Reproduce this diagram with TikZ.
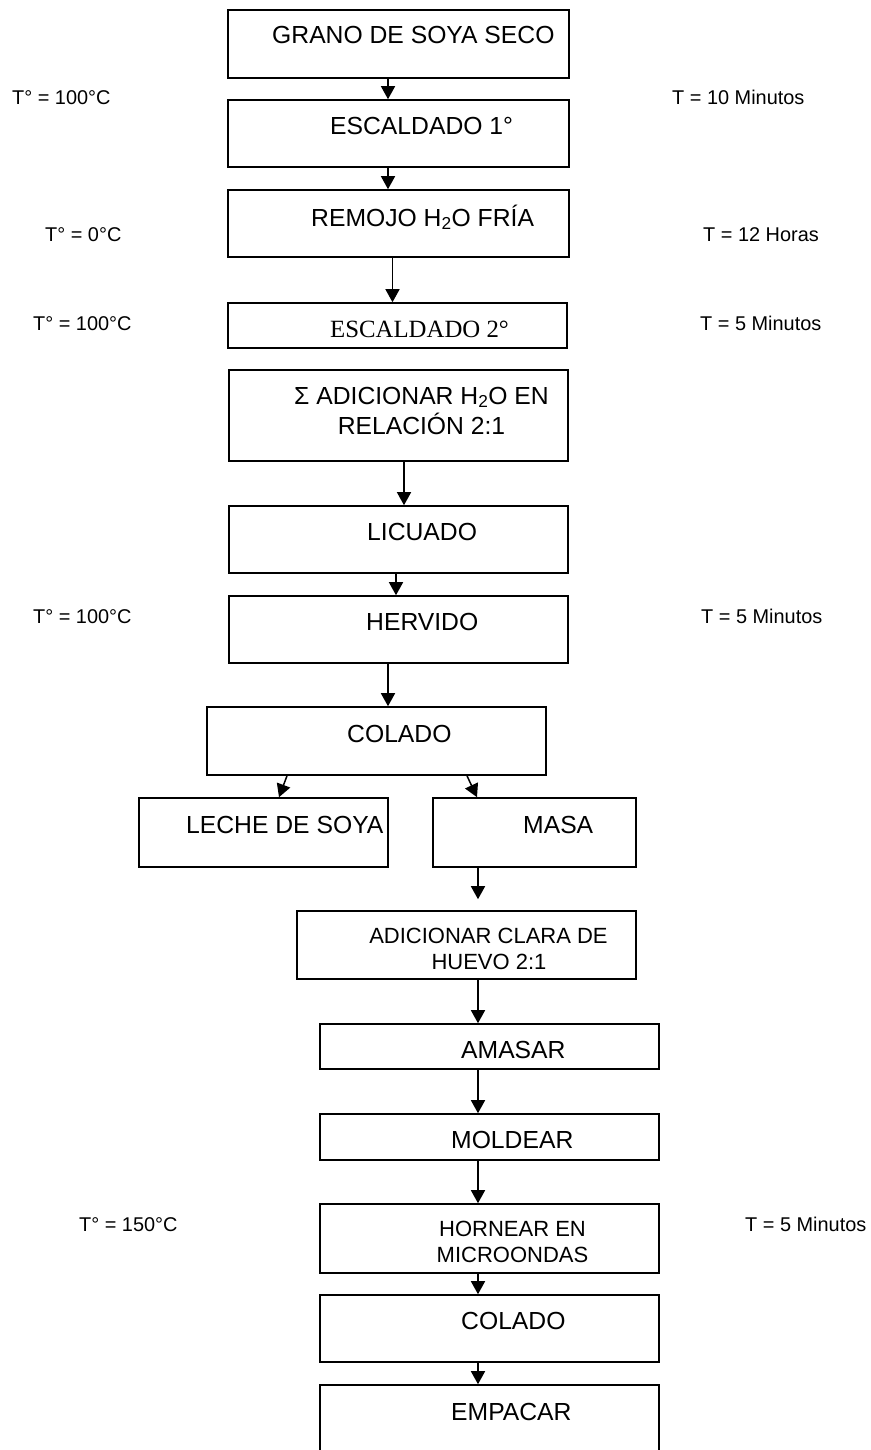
\documentclass[tikz,border=0pt]{standalone}
\usepackage{fontspec}
\setmainfont{Liberation Sans}
\newfontfamily\serifa{Liberation Serif}
\usetikzlibrary{arrows.meta}
\newcommand{\agua}{H\textsubscript{2}O}

\begin{document}
\begin{tikzpicture}[x=1pt,y=-1pt]
                        \tikzstyle{caja}=[draw,line width=1.6pt,inner sep=0pt,minimum width=339pt]
                        \tikzstyle{txt}=[inner sep=0pt,anchor=base west,font=\fontsize{24.7}{28}\selectfont]
                        \tikzstyle{txtc}=[inner sep=0pt,anchor=base,font=\fontsize{22}{26}\selectfont]
                        \tikzstyle{lado}=[inner sep=0pt,anchor=base west,font=\fontsize{19.9}{24}\selectfont]
                        \tikzstyle{flecha}=[line width=1.5pt,-{Triangle[width=14pt,length=13pt]}]
                        \useasboundingbox (0,0) rectangle (870,1450);
                        \clip (0,0) rectangle (870,1450);
                        \node[caja,minimum width=341pt,minimum height=68pt] (grano) at (398.5,44) {};
                        \node[caja,minimum width=341pt,minimum height=67pt] (escaldadouno) at (398.5,133.5) {};
                        \node[caja,minimum width=341pt,minimum height=67pt] (remojo) at (398.5,223.5) {};
                        \node[caja,minimum height=45pt] (escaldadodos) at (397.5,325.5) {};
                        \node[caja,minimum height=91pt] (adicionar) at (398.5,415.5) {};
                        \node[caja,minimum height=67pt] (licuado) at (398.5,539.5) {};
                        \node[caja,minimum height=67pt] (hervido) at (398.5,629.5) {};
                        \node[caja,minimum height=68pt] (colado) at (376.5,741) {};
                        \node[caja,minimum width=249pt,minimum height=69pt] (leche) at (263.5,832.5) {};
                        \node[caja,minimum width=203pt,minimum height=69pt] (masa) at (534.5,832.5) {};
                        \node[caja,minimum height=68pt] (clara) at (466.5,945) {};
                        \node[caja,minimum height=45pt] (amasar) at (489.5,1046.5) {};
                        \node[caja,minimum height=46pt] (moldear) at (489.5,1137) {};
                        \node[caja,minimum height=69pt] (hornear) at (489.5,1238.5) {};
                        \node[caja,minimum height=67pt] (coladodos) at (489.5,1328.5) {};
                        \node[caja,minimum height=80pt] (empacar) at (489.5,1425) {};
                        \node[txt] (tgrano) at (272,44) {GRANO DE SOYA SECO};
                        \node[txt] (tescaldadouno) at (330,135) {ESCALDADO 1°};
                        \node[txt] (tremojo) at (311,226) {REMOJO \agua{} FRÍA};
                        \node[txt,font=\serifa\fontsize{24.8}{28}\selectfont] (tescaldadodos) at (330,337) {ESCALDADO 2°};
                        \node[txtc,font=\fontsize{24.7}{28}\selectfont] (tadicionar) at (421.5,404) {Σ ADICIONAR \agua{} EN};
                        \node[txtc,font=\fontsize{24.7}{28}\selectfont] (trelacion) at (421.5,434) {RELACIÓN 2:1};
                        \node[txt] (tlicuado) at (367,540) {LICUADO};
                        \node[txt] (thervido) at (366,630) {HERVIDO};
                        \node[txt] (tcolado) at (347,742) {COLADO};
                        \node[txt] (tleche) at (186,833) {LECHE DE SOYA};
                        \node[txt] (tmasa) at (523,833) {MASA};
                        \node[txtc] (tclara) at (488.5,943) {ADICIONAR CLARA DE};
                        \node[txtc] (thuevo) at (489,969) {HUEVO 2:1};
                        \node[txt] (tamasar) at (461,1058) {AMASAR};
                        \node[txt] (tmoldear) at (451,1148) {MOLDEAR};
                        \node[txtc] (thornear) at (512.5,1236) {HORNEAR EN};
                        \node[txtc] (tmicro) at (512.5,1262) {MICROONDAS};
                        \node[txt] (tcoladodos) at (461,1329) {COLADO};
                        \node[txt] (tempacar) at (451,1420) {EMPACAR};
                        \node[lado] (tempuno) at (12,105) {T° = 100°C};
                        \node[lado] (tempdos) at (45,241) {T° = 0°C};
                        \node[lado] (temptres) at (33,330) {T° = 100°C};
                        \node[lado] (tempcuatro) at (33,623) {T° = 100°C};
                        \node[lado] (tempcinco) at (79,1231) {T° = 150°C};
                        \node[lado] (tiempouno) at (672,105) {T = 10 Minutos};
                        \node[lado] (tiempodos) at (703,241) {T = 12 Horas};
                        \node[lado] (tiempotres) at (700,330) {T = 5 Minutos};
                        \node[lado] (tiempocuatro) at (701,623) {T = 5 Minutos};
                        \node[lado] (tiempocinco) at (745,1231) {T = 5 Minutos};
                        \draw[flecha] ([xshift=-10.5pt]grano.south) -- ([xshift=-10.5pt]escaldadouno.north);
                        \draw[flecha] ([xshift=-10.5pt]escaldadouno.south) -- ([xshift=-10.5pt]remojo.north);
                        \draw[flecha] ([xshift=-6pt]remojo.south) -- ([xshift=-5pt]escaldadodos.north);
                        \draw[flecha] ([xshift=5.5pt]adicionar.south) -- ([xshift=5.5pt]licuado.north);
                        \draw[flecha] ([xshift=-2.5pt]licuado.south) -- ([xshift=-2.5pt]hervido.north);
                        \draw[flecha] ([xshift=-10.5pt]hervido.south) -- ([xshift=11.5pt]colado.north);
                        \draw[flecha] ([xshift=-89.5pt]colado.south) -- ([xshift=15.5pt]leche.north);
                        \draw[flecha] ([xshift=90.5pt]colado.south) -- ([xshift=-57.5pt]masa.north);
                        \draw[flecha] ([xshift=-56.5pt]masa.south) -- ([xshift=11.5pt,yshift=11pt]clara.north);
                        \draw[flecha] ([xshift=11.5pt]clara.south) -- ([xshift=-11.5pt]amasar.north);
                        \draw[flecha] ([xshift=-11.5pt]amasar.south) -- ([xshift=-11.5pt]moldear.north);
                        \draw[flecha] ([xshift=-11.5pt]moldear.south) -- ([xshift=-11.5pt]hornear.north);
                        \draw[flecha] ([xshift=-11.5pt]hornear.south) -- ([xshift=-11.5pt]coladodos.north);
                        \draw[flecha] ([xshift=-11.5pt]coladodos.south) -- ([xshift=-11.5pt]empacar.north);
                    \end{tikzpicture}
\end{document}
